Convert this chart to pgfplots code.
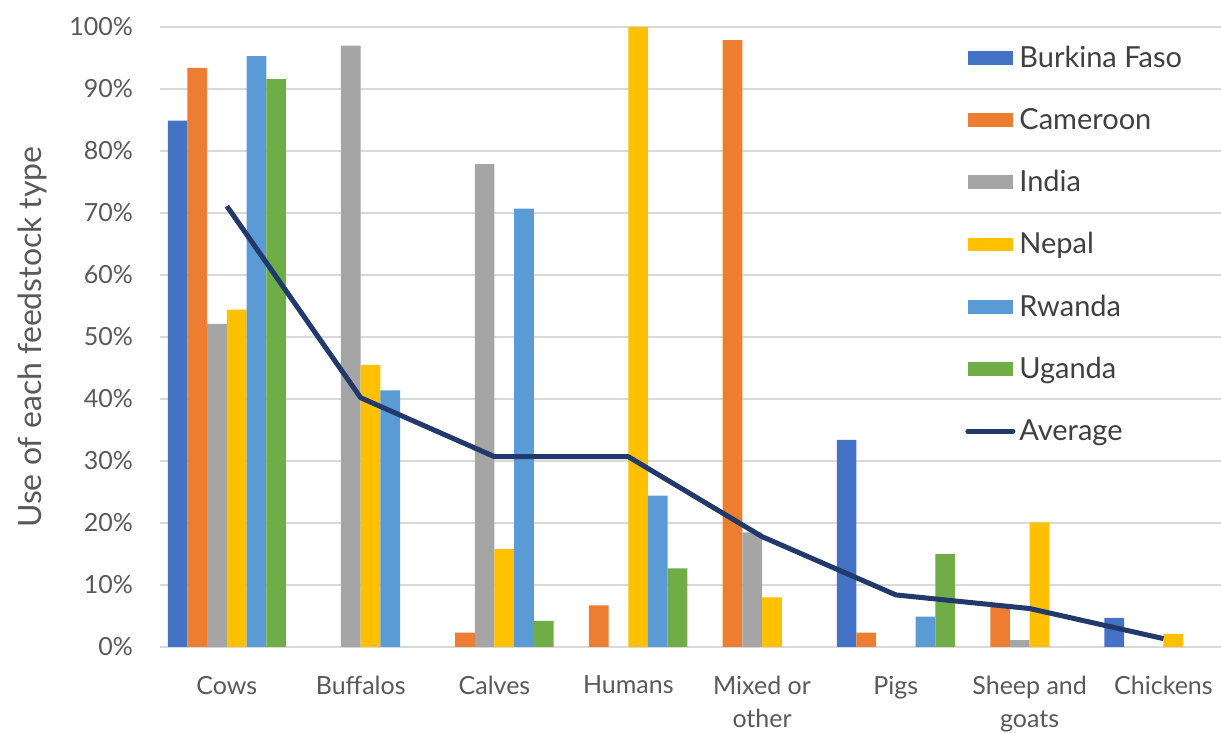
\documentclass[border=0pt]{standalone}
\usepackage{pgfplots}
\pgfplotsset{compat=1.18}
\usepackage{fontspec}
\setmainfont{Lato}
\definecolor{cbf}{HTML}{4472C4}
\definecolor{ccm}{HTML}{ED7D31}
\definecolor{cin}{HTML}{A5A5A5}
\definecolor{cne}{HTML}{FFC000}
\definecolor{crw}{HTML}{5B9BD5}
\definecolor{cug}{HTML}{70AD47}
\definecolor{cav}{HTML}{22396B}
\definecolor{gridc}{HTML}{D9D9D9}
\definecolor{txt}{HTML}{595959}
\pgfplotsset{
  barleg/.style={legend image code/.code={\fill[##1] (0pt,-3.4pt) rectangle (22.5pt,3.4pt);}},
}
\begin{document}
\begin{tikzpicture}
\useasboundingbox (-80pt,-43pt) rectangle (530.5pt,323.5pt);
\begin{axis}[
  at={(0pt,0pt)}, anchor=south west,
  scale only axis, width=530.5pt, height=310pt,
  xmin=-0.5, xmax=7.43, ymin=0, ymax=100,
  ybar=0pt, bar width=9.85pt,
  xtick={0,...,7},
  xticklabels={Cows,Buffalos,Calves,Humans,{Mixed or\\other},Pigs,{Sheep and\\goats},Chickens},
  xticklabel style={align=center, font=\fontsize{12.5}{16.5}\selectfont, text=txt, yshift=-11pt},
  ytick={0,10,...,100},
  yticklabel={\pgfmathprintnumber{\tick}\%},
  yticklabel style={font=\fontsize{12.5}{14}\selectfont, text=txt, xshift=-10pt},
  /pgf/number format/assume math mode=true,
  major tick length=0pt,
  axis line style={draw=none},
  ymajorgrids, grid style={draw=gridc, line width=0.7pt},
  ylabel={Use of each feedstock type},
  ylabel style={at={(axis description cs:-0.1206,0.5)}, anchor=center, font=\fontsize{16}{18}\selectfont, text=txt},
  legend style={at={(axis description cs:0.7587,0.977)}, anchor=north west, draw=none, fill=none,
    font=\fontsize{14.5}{17}\selectfont, text=black!75, row sep=15pt,
    legend cell align=left, inner sep=0pt},
]
\addplot[fill=cbf, draw=none, barleg] coordinates {(0,84.9) (5,33.4) (7,4.7)};
\addplot[fill=ccm, draw=none, barleg] coordinates {(0,93.4) (2,2.3) (3,6.7) (4,97.9) (5,2.3) (6,6.5)};
\addplot[fill=cin, draw=none, barleg] coordinates {(0,52.1) (1,97.0) (2,77.9) (4,18.5) (6,1.1)};
\addplot[fill=cne, draw=none, barleg] coordinates {(0,54.4) (1,45.5) (2,15.8) (3,100) (4,8.0) (6,20.1) (7,2.1)};
\addplot[fill=crw, draw=none, barleg] coordinates {(0,95.3) (1,41.4) (2,70.7) (3,24.4) (5,4.9)};
\addplot[fill=cug, draw=none, barleg] coordinates {(0,91.6) (2,4.2) (3,12.7) (5,15.0)};
\addplot[sharp plot, draw=cav, line width=2.5pt, mark=none, line join=round,
  legend image code/.code={\draw[cav, line width=2.5pt, line cap=round] (0pt,0pt) -- (22.5pt,0pt);}]
  coordinates {(0,71.1) (1,40.2) (2,30.7) (3,30.7) (4,17.8) (5,8.4) (6,6.2) (7,1.35)};
\legend{Burkina Faso,Cameroon,India,Nepal,Rwanda,Uganda,Average}
\end{axis}
\end{tikzpicture}
\end{document}
